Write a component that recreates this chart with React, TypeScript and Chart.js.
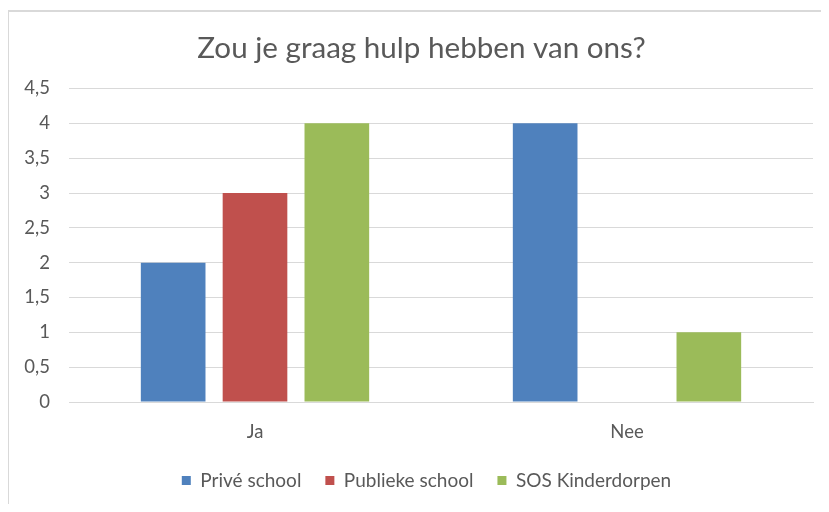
import React, { useEffect, useRef } from "react";
import { Chart, registerables } from "chart.js";

Chart.register(...registerables);

const categories = ["Ja", "Nee"];
const seriesNames = ["Privé school", "Publieke school", "SOS Kinderdorpen"];
const priveSchool = [2, 4];
const publiekeSchool = [3, 0];
const sosKinderdorpen = [4, 1];
const colors = ["#4F81BD", "#C0504D", "#9BBB59"];
const titleText = "Zou je graag hulp hebben van ons?";

const FONT = "Lato, Carlito, Calibri, 'Open Sans', sans-serif";
const TEXT = "#595959";

// shifts title and legend boxes so they are centred like the original chart
const centerShift = {
  id: "centerShift",
  afterLayout(chart: any) {
    if (chart.titleBlock) chart.titleBlock.left = 30;
    if (chart.legend) chart.legend.left = 40;
  },
};

export default function App() {
  const ref = useRef<HTMLCanvasElement | null>(null);
  useEffect(() => {
    if (!ref.current) return;
    const values = [priveSchool, publiekeSchool, sosKinderdorpen];
    const chart = new Chart(ref.current, {
      type: "bar",
      data: {
        labels: categories,
        datasets: seriesNames.map((name, i) => ({
          label: name,
          data: values[i],
          backgroundColor: colors[i],
          borderWidth: 0,
          categoryPercentage: 0.66,
          barPercentage: 0.79,
        })),
      },
      plugins: [centerShift],
      options: {
        animation: false,
        responsive: false,
        maintainAspectRatio: false,
        layout: { padding: { left: 0, right: 16, top: 0, bottom: 12 } },
        plugins: {
          title: {
            display: true,
            text: titleText,
            color: TEXT,
            font: { family: FONT, size: 29.6, weight: "normal" },
            padding: { top: 31, bottom: 22 },
          },
          legend: {
            position: "bottom",
            labels: {
              color: TEXT,
              font: { family: FONT, size: 19 },
              boxWidth: 9,
              boxHeight: 9,
              padding: 24,
            },
          },
          tooltip: { enabled: false },
        },
        scales: {
          x: {
            grid: { display: false, drawTicks: false },
            border: { display: true, color: "#D9D9D9", width: 1 },
            ticks: { color: TEXT, font: { family: FONT, size: 18.5 }, padding: 19 },
            afterFit: (s: any) => {
              s.height = 45;
            },
          },
          y: {
            min: 0,
            max: 4.5,
            ticks: {
              stepSize: 0.5,
              color: TEXT,
              font: { family: FONT, size: 18.5 },
              padding: 19,
              callback: (v: any) => String(v).replace(".", ","),
            },
            grid: { color: "#D9D9D9", drawTicks: false },
            border: { display: false },
            afterFit: (s: any) => {
              s.width = 69;
            },
          },
        },
      },
    });
    return () => chart.destroy();
  }, []);
  return (
    <div style={{ position: "relative", width: 829, height: 512, margin: -8, background: "#fff" }}>
      <div
        style={{
          position: "absolute",
          left: 7,
          top: 10,
          right: 0,
          bottom: 0,
          borderLeft: "2px solid #D9D9D9",
          borderTop: "2px solid #D9D9D9",
        }}
      />
      <canvas ref={ref} width={829} height={512} style={{ position: "absolute", left: 0, top: 0 }} />
    </div>
  );
}
